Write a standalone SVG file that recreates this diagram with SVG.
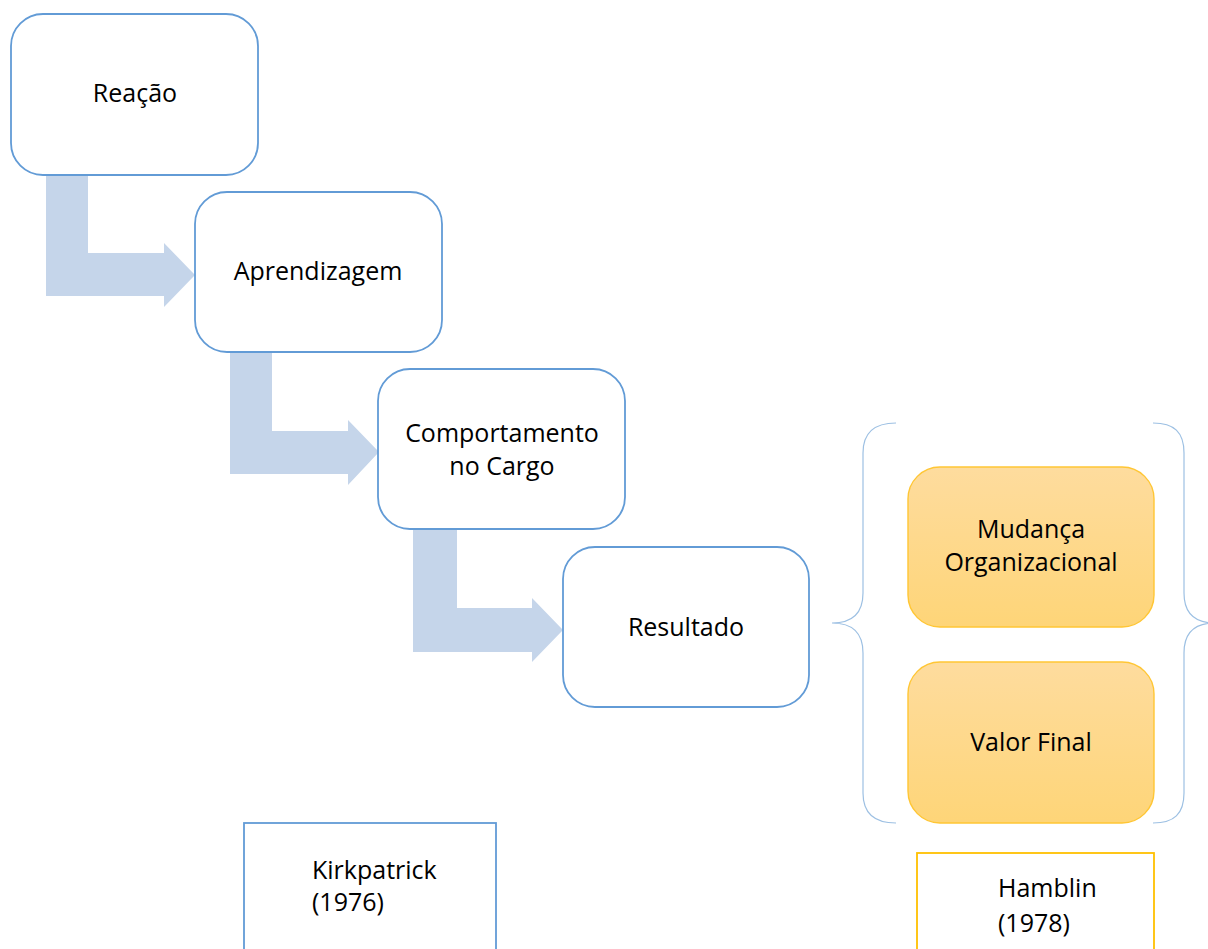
<svg xmlns="http://www.w3.org/2000/svg" width="1208" height="949" viewBox="0 0 1208 949">
  <defs>
    <linearGradient id="gold" x1="0" y1="0" x2="0" y2="1">
      <stop offset="0" stop-color="#FEDC9E"/>
      <stop offset="1" stop-color="#FED578"/>
    </linearGradient>
    <style>
      .step { fill: #FFFFFF; stroke: #629BD6; stroke-width: 1.8; }
      .gold { fill: url(#gold); stroke: #FFC634; stroke-width: 1.4; }
      .bend { fill: #C5D5EA; stroke: none; }
      .brace { fill: none; stroke: #9DC0E3; stroke-width: 1.2; }
      .label { font-family: "Open Sans", "Liberation Sans", sans-serif; font-size: 25px; fill: #000000; }
      .mid { text-anchor: middle; }
    </style>
  </defs>

  <!-- bent arrows between the levels -->
  <g id="connectors">
    <path class="bend" d="M46,175 H88 V253 H164 V243 L195,275 L164,307 V296 H46 Z"/>
    <path class="bend" d="M230,352 H272 V431 H348 V420 L379,452 L348,485 V474 H230 Z"/>
    <path class="bend" d="M413,529 H457 V608 H532 V598 L563,630 L532,662 V652 H413 Z"/>
  </g>

  <g id="node-reacao">
    <rect class="step" x="11" y="14" width="247" height="161" rx="32"/>
    <text class="label mid" x="135" y="102">Reação</text>
  </g>

  <g id="node-aprendizagem">
    <rect class="step" x="195" y="192" width="247" height="160" rx="32"/>
    <text class="label mid" x="318" y="280">Aprendizagem</text>
  </g>

  <g id="node-comportamento">
    <rect class="step" x="378" y="369" width="247" height="160" rx="32"/>
    <text class="label mid" x="502" y="442">Comportamento</text>
    <text class="label mid" x="502" y="475">no Cargo</text>
  </g>

  <g id="node-resultado">
    <rect class="step" x="563" y="547" width="246" height="160" rx="32"/>
    <text class="label mid" x="686" y="636">Resultado</text>
  </g>

  <!-- braces enclosing the Hamblin levels -->
  <g id="braces">
    <path class="brace" d="M896,423 C875,423 863,432 863,453 V593 C863,613 852,623 832,623 C852,623 863,633 863,653 V793 C863,814 875,823 896,823"/>
    <path class="brace" d="M1153,423 C1174,423 1184,432 1184,453 V593 C1184,613 1195,623 1215,623 C1195,623 1184,633 1184,653 V793 C1184,814 1174,823 1153,823"/>
  </g>

  <g id="node-mudanca">
    <rect class="gold" x="908" y="467" width="246" height="160" rx="32"/>
    <text class="label mid" x="1031" y="538">Mudança</text>
    <text class="label mid" x="1031" y="571">Organizacional</text>
  </g>

  <g id="node-valor">
    <rect class="gold" x="908" y="662" width="246" height="161" rx="32"/>
    <text class="label mid" x="1031" y="751">Valor Final</text>
  </g>

  <g id="node-kirkpatrick">
    <rect x="244" y="823" width="252" height="140" fill="#FFFFFF" stroke="#629BD6" stroke-width="1.8"/>
    <text class="label" x="312" y="879">Kirkpatrick</text>
    <text class="label" x="312" y="911">(1976)</text>
  </g>

  <g id="node-hamblin">
    <rect x="917" y="853" width="237" height="110" fill="#FFFFFF" stroke="#FFC000" stroke-width="1.8"/>
    <text class="label" x="998" y="897">Hamblin</text>
    <text class="label" x="998" y="932">(1978)</text>
  </g>
</svg>
